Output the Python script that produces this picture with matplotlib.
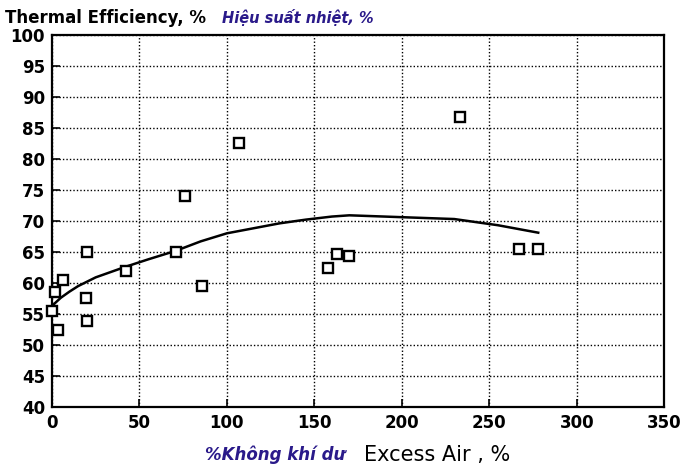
import numpy as np
import matplotlib.pyplot as plt

# measured points: excess air (%) vs thermal efficiency (%)
excess_air = [0, 1.7, 3.5, 6.3, 19.5, 20, 20, 42.5, 71, 76, 86, 107, 158, 163, 170, 233, 267, 278]
efficiency = [55.5, 58.5, 52.4, 60.5, 57.6, 65, 53.9, 62, 65, 74, 59.5, 82.5, 62.4, 64.7, 64.4, 86.8, 65.5, 65.5]

# fitted trend line
trend_x = [0, 5, 10, 15, 25, 42, 55, 71, 85, 100, 115, 130, 145, 160, 170, 200, 230, 255, 278]
trend_y = [56.3, 57.6, 58.6, 59.5, 60.9, 62.6, 63.8, 65.2, 66.7, 68.0, 68.8, 69.6, 70.2, 70.7, 70.9, 70.6, 70.3, 69.3, 68.1]

xticks = [0, 50, 100, 150, 200, 250, 300, 350]
yticks = [40, 45, 50, 55, 60, 65, 70, 75, 80, 85, 90, 95, 100]

fig = plt.figure(figsize=(6.84, 4.70), dpi=100)
ax = fig.add_axes([0.076, 0.134, 0.895, 0.792])

ax.plot(trend_x, trend_y, color='black', lw=1.8, zorder=3)
ax.plot(excess_air, efficiency, linestyle='none', marker='s', ms=7.5,
        mfc='white', mec='black', mew=1.7, zorder=4, clip_on=False)

ax.set_xlim(0, 350)
ax.set_ylim(40, 100)
ax.set_xticks(xticks)
ax.set_yticks(yticks)
ax.tick_params(direction='in', length=6, width=1.2, labelsize=12, pad=5)
for lbl in ax.get_xticklabels() + ax.get_yticklabels():
    lbl.set_fontweight('bold')
ax.grid(True, color='black', linestyle=(0, (1, 1.5)), linewidth=1.0)
for s in ax.spines.values():
    s.set_linewidth(1.6)

fig.text(0.008, 0.962, 'Thermal Efficiency, %', fontsize=12, fontweight='bold',
         va='center', ha='left')
fig.text(0.325, 0.962, 'Hiệu suất nhiệt, %', fontsize=10.5, fontweight='bold',
         style='italic', color='#2a1a8a', va='center', ha='left')
fig.text(0.30, 0.032, '%Không khí dư', fontsize=12, fontweight='bold',
         style='italic', color='#2a1a8a', va='center', ha='left')
fig.text(0.532, 0.032, 'Excess Air , %', fontsize=15, va='center', ha='left')

fig.savefig('out.png', dpi=100)
